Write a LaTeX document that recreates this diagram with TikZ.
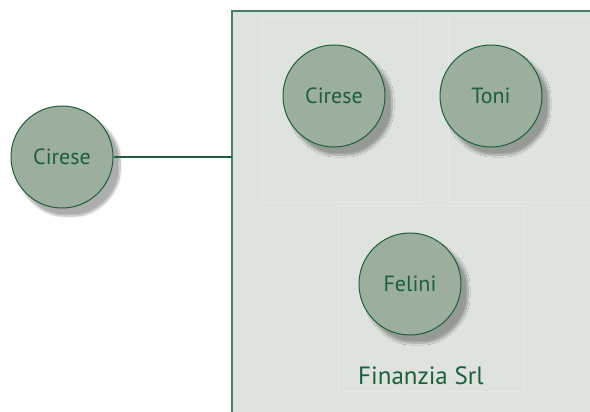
\documentclass[tikz,border=0pt]{standalone}
\usepackage{fontspec}
\setmainfont{PT Sans}
\usetikzlibrary{shadows.blur}
\definecolor{deepgreen}{HTML}{1D5E3C}
\definecolor{panelgray}{HTML}{DEE3DD}
\definecolor{cellline}{HTML}{E5E9E4}
\definecolor{ballfill}{HTML}{9CAF9F}

\begin{document}
\begin{tikzpicture}[x=1pt, y=-1pt,
	person/.style={circle, draw=deepgreen, line width=1pt, fill=ballfill, minimum size=102pt,
		text=deepgreen, font=\fontsize{22}{26}\selectfont,
		blur shadow={shadow xshift=7pt, shadow yshift=-8pt, shadow opacity=32, shadow blur steps=10, shadow blur extra rounding=6pt}},
	cell/.style={draw=cellline, line width=0.6pt}]
	\useasboundingbox (0,0) rectangle (590,412);
	% company panel
	\path[fill=panelgray, draw=deepgreen!80, line width=1.2pt] (232,412) |- (591,11);
	\fill[panelgray] (233,12) rectangle (590,412);
	\draw[cell] (262,17) rectangle (420,202);
	\draw[cell] (448,17) -- (448,202) -- (590,202);
	\draw[cell] (448,17) -- (590,17);
	\draw[cell] (338,205) rectangle (524,391);
	\coordinate (edge) at (232,157);
	% people
	\node[person] (outside) at (62,157) {Cirese};
	\node[person] (cirese) at (334,96) {Cirese};
	\node[person] (toni) at (491,96) {Toni};
	\node[person] (felini) at (410,284) {Felini};
	\node[text=deepgreen, anchor=base west, font=\fontsize{25}{30}\selectfont, inner sep=0pt] (firm) at (358,384) {Finanzia Srl};
	\draw[deepgreen, line width=2.5pt] (outside) -- (edge);
\end{tikzpicture}
\end{document}
